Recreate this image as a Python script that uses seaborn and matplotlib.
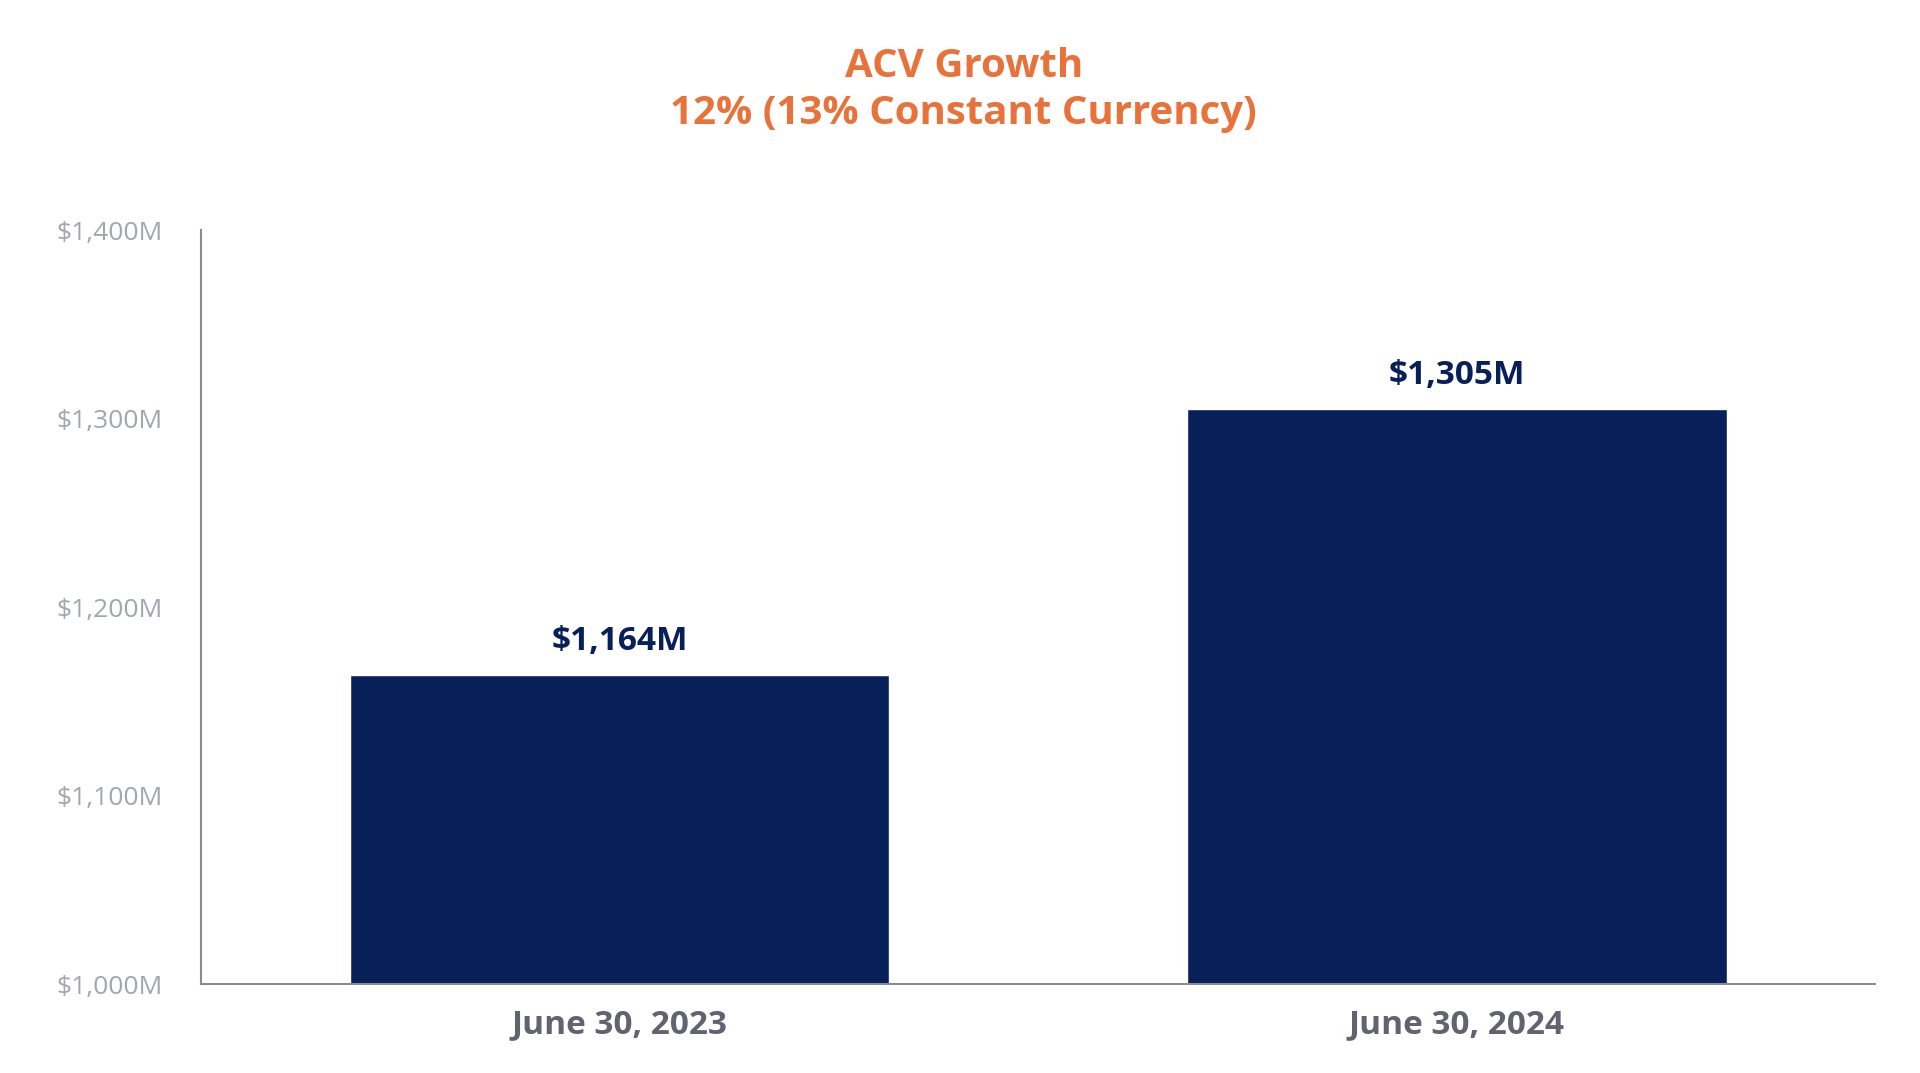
import matplotlib
matplotlib.use("Agg")
import matplotlib.pyplot as plt
import seaborn as sns

# chart data
dates = ["June 30, 2023", "June 30, 2024"]
acv = [1164, 1305]
bar_labels = ["$1,164M", "$1,305M"]
y_ticks = [1000, 1100, 1200, 1300, 1400]
y_tick_labels = ["$1,000M", "$1,100M", "$1,200M", "$1,300M", "$1,400M"]

navy = "#08205a"
orange = "#e8723a"
tick_grey = "#a3a6b1"
xlab_grey = "#5f6470"

sns.set_theme(style="white")
plt.rcParams["font.family"] = ["Open Sans", "DejaVu Sans"]

fig = plt.figure(figsize=(19.2, 10.73), dpi=100)
ax = fig.add_axes([0.1047, 0.0829, 0.8719, 0.7027])

sns.barplot(x=dates, y=acv, color=navy, width=0.645, saturation=1, ax=ax)
ax.bar_label(ax.containers[0], labels=bar_labels, padding=12,
             fontsize=24, fontweight="bold", color=navy)

ax.set_ylim(1000, 1400)
ax.set_xlim(-0.5, 1.5)
ax.set_yticks(y_ticks)
ax.set_yticklabels(y_tick_labels)
ax.tick_params(axis="y", length=0, pad=27.5, labelsize=19, labelcolor=tick_grey)
ax.tick_params(axis="x", length=0, pad=17, labelsize=24, labelcolor=xlab_grey)
for lab in ax.get_xticklabels():
    lab.set_fontweight("bold")

sns.despine(ax=ax)
for side in ["left", "bottom"]:
    ax.spines[side].set_color("#8c8c8c")
    ax.spines[side].set_linewidth(1.5)

fig.text(0.502, 0.916, "ACV Growth\n12% (13% Constant Currency)",
         ha="center", va="center", fontsize=29, fontweight="bold",
         color=orange, linespacing=1.25)

fig.savefig("out.png", dpi=100)
